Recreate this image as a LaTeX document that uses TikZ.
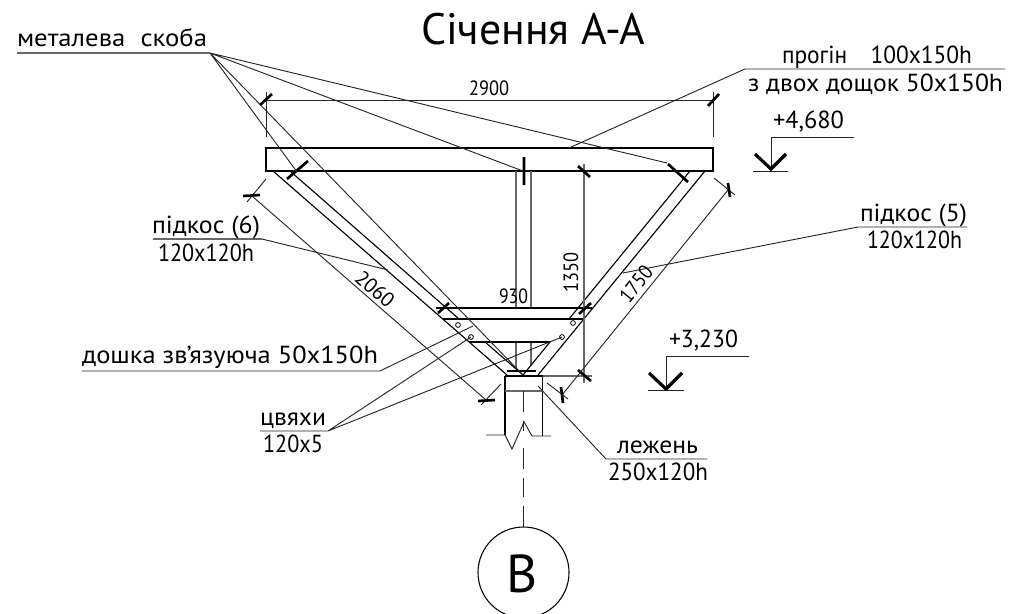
\documentclass[tikz,border=0pt]{standalone}
\usepackage{graphicx}
\usepackage{fontspec}
\setmainfont{PT Sans}
\newlength\pxu
\setlength\pxu{0.75pt}
\newcommand{\lbl}[5][big]{\node[#1lab] (#2) at (#3) {\resizebox{#4\pxu}{\height}{#5}};}
\newcommand{\rlbl}[5]{\node[dimlab,anchor=center,rotate=#5] (#1) at (#2) {\resizebox{#3\pxu}{\height}{#4}};}
\tikzset{
  biglab/.style={anchor=base west,inner sep=0pt,outer sep=0pt,font=\fontsize{18.5}{22}\selectfont},
  dimlab/.style={anchor=base west,inner sep=0pt,outer sep=0pt,font=\fontsize{15.5}{18}\selectfont},
  titlelab/.style={anchor=base west,inner sep=0pt,outer sep=0pt,font=\fontsize{33}{38}\selectfont},
  thinln/.style={line width=0.7pt,black!85},
  greyln/.style={line width=0.9pt,black!60},
  boldln/.style={line width=0.85pt,black},
  tickln/.style={line width=2pt,black},
  holedot/.style={circle,draw=black,line width=0.6pt,minimum size=3.6pt,inner sep=0pt,fill=white},
}
\begin{document}
\begin{tikzpicture}[x=0.75pt,y=-0.75pt,line cap=butt,line join=miter]
\useasboundingbox (0,0) rectangle (1011,614);
% hubs
\coordinate (skoba) at (210,53);
\coordinate (clipL) at (297,172);
\coordinate (clipC) at (523,171);
\coordinate (clipR) at (667,163);
\coordinate (clipB) at (523,375);
\coordinate (cv) at (328,431);
% beam
\draw[boldln] (266,148) rectangle (713,171);
% post
\draw[greyln] (516,171) -- (516,308) (531,171) -- (531,308);
\draw[greyln] (516,342) -- (516,368) (531,342) -- (531,366);
% left brace
\draw[boldln] (273,171) -- (507,375);
\draw[boldln] (290,171) -- (459,319);
\draw[boldln] (485,342) -- (523,375);
% right brace
\draw[boldln] (705,171) -- (538,375);
\draw[boldln] (690,171) -- (569,319);
\draw[boldln] (550,342) -- (523,375);
% tie boards
\draw[boldln] (436,308) -- (592,308);
\draw[boldln] (443,319) -- (585,319);
\draw[boldln] (469,342) -- (550,342);
% holes
\node[holedot] (h1) at (458,325) {};
\node[holedot] (h2) at (471,337) {};
\node[holedot] (h3) at (573,323) {};
\node[holedot] (h4) at (562,337) {};
% bearer and support
\draw[tickln] (507,371) -- (536,371);
\draw[boldln] (505,376) -- (505,435) (542.5,376) -- (542.5,436) (505,376) -- (542.5,376);
\draw[greyln] (505,391) -- (542.5,391);
\draw[greyln] (542.5,376) -- (592,376);
\draw[thinln] (486,435) -- (505,435) -- (512,449) -- (524,422) -- (532,436) -- (551,436);
% axis + circle
\draw[thinln] (523.3,391) -- (523.3,412) (523.3,421) -- (523.3,431) (523.3,448) -- (523.3,469) (523.3,478) -- (523.3,497) (523.3,506) -- (523.3,527);
\node[draw=black,line width=0.8pt,circle,minimum size=68.25pt,inner sep=0pt] (axisB) at (523.5,572.5) {};
\node[titlelab,anchor=center,font=\fontsize{40}{44}\selectfont] (axisL) at (522.5,573.5) {В};
% dim 2900
\draw[thinln] (266,100) -- (713,100) (266,92) -- (266,137) (713,92) -- (713,137);
\draw[tickln] (260,105) -- (272,94) (708,106) -- (719,94);
% dim 1350
\draw[greyln] (584,164) -- (584,383);
\draw[tickln] (578,166) -- (590,177) (578,370) -- (591,381);
% dim 930
\draw[tickln] (438,313) -- (449,303) (579,314) -- (591,303);
% dim 2060
\draw[thinln] (252,196) -- (486,400) (247,202) -- (266,179) (481,405) -- (501,384);
\draw[tickln] (243,196) -- (260,195) (478,401) -- (495,400);
% dim 1750
\draw[thinln] (728,190) -- (562,395) (714,178) -- (735,195) (547,383) -- (568,399);
\draw[tickln] (728,183) -- (730,197) (561,387) -- (563,403);
% clips
\draw[tickln] (287,179) -- (308,161) (524,157) -- (524,185) (668,164) -- (688,182);
% leaders
\draw[greyln] (17,53) -- (skoba);
\draw[thinln] (skoba) -- (clipL) (skoba) -- (clipB) (skoba) -- (clipC) (skoba) -- (clipR);
\draw[thinln] (569,148) -- (745,69) -- (1005,69);
\draw[greyln] (153,239) -- (262,239);
\draw[thinln] (262,239) -- (388,270);
\draw[thinln] (623,273) -- (858,227) -- (967,227);
\draw[thinln] (82,371) -- (380,371) -- (473,326);
\draw[thinln] (260,431) -- (cv) -- (h2.center) (cv) -- (h4.center);
\draw[thinln] (538,386) -- (606,459) -- (707,459);
% levels
\draw[thinln] (854,137) -- (771,137) -- (771,171) (753,171) -- (788,171);
\draw[line width=2.4pt] (755,154) -- (771,169) -- (786,154);
\draw[thinln] (749,356) -- (666,356) -- (666,390) (648,390) -- (684,390);
\draw[line width=2.4pt] (649,373) -- (666,389) -- (682,373);
% texts
\lbl[title]{tTitle}{421,44}{224}{Січення А-А}
\lbl{tSkoba}{17,46.5}{190}{металева\hspace{0.3em} скоба}
\lbl{tProgin}{782,63}{190}{прогін\hspace{1em}100x150h}
\lbl{tDvoh}{748,91}{255}{з двох дощок 50x150h}
\lbl{tL1}{773,128}{71}{+4,680}
\lbl{tL2}{669,347}{69}{+3,230}
\lbl{tP6}{152,233}{108}{підкос (6)}
\lbl{tP6b}{158,261}{96}{120x120h}
\lbl{tP5}{860,221}{107}{підкос (5)}
\lbl{tP5b}{867,248}{95}{120x120h}
\lbl{tDoshka}{82,363}{296}{дошка зв’язуюча 50x150h}
\lbl{tCv}{260,425}{66}{цвяхи}
\lbl{tCvb}{263,452}{60}{120x5}
\lbl{tLez}{617,453}{81}{лежень}
\lbl{tLezb}{608,480}{100}{250x120h}
\lbl[dim]{t2900}{469,95}{40}{2900}
\lbl[dim]{t930}{499,303}{29}{930}
\rlbl{t1350}{571,272}{40}{1350}{90}
\rlbl{t2060}{375,289}{44}{2060}{-41}
\rlbl{t1750}{636,284}{40}{1750}{51}
\end{tikzpicture}
\end{document}
